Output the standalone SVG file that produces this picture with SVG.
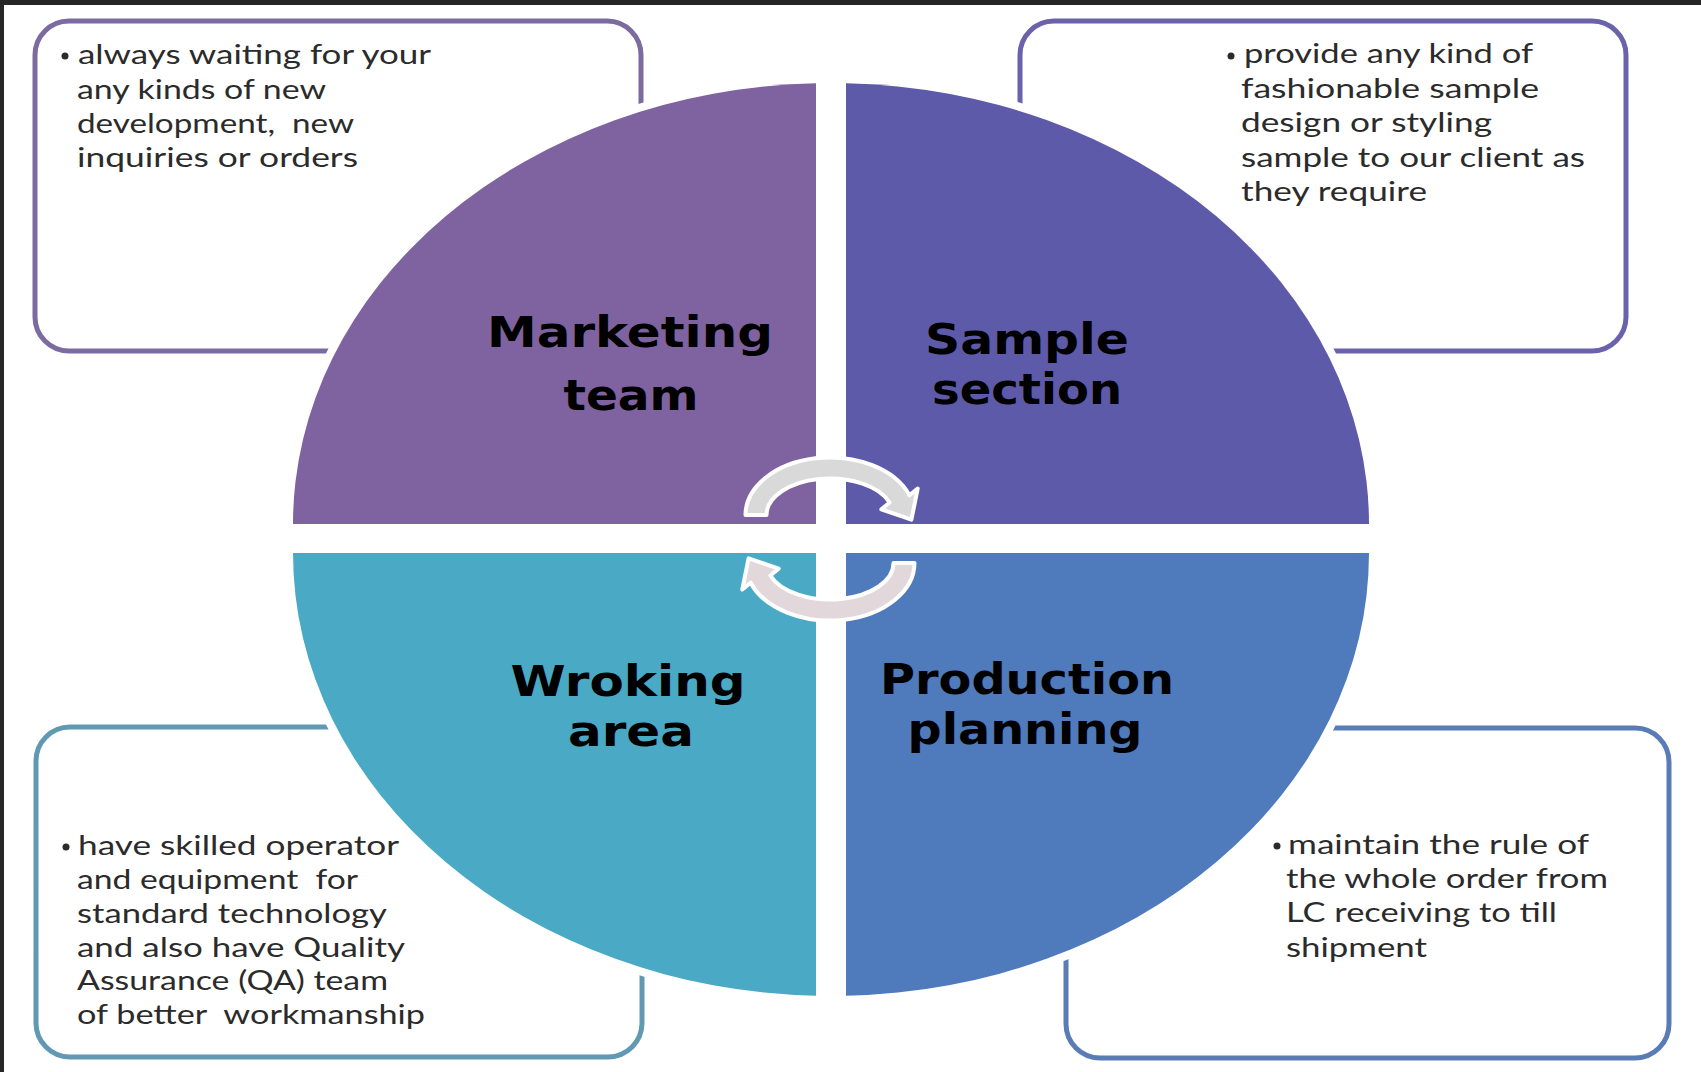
<svg xmlns="http://www.w3.org/2000/svg" xmlns:xlink="http://www.w3.org/1999/xlink" width="1701" height="1072" viewBox="0 0 1701 1072">
  <style>
    .box { fill: #ffffff; stroke-width: 5; }
    .quad { stroke: #ffffff; stroke-width: 16; paint-order: stroke; stroke-linejoin: round; }
    .title { font-family: "DejaVu Sans", "Liberation Sans", sans-serif; font-weight: bold; font-size: 42px; fill: #000000; text-anchor: middle; }
    .body { font-family: Lato, "Open Sans", "Liberation Sans", sans-serif; font-size: 27px; fill: #2b2b2b; white-space: pre; }
    .bullet { fill: #2b2b2b; }
    .arrowTop { fill: #d9d9d9; stroke: #ffffff; stroke-width: 4; stroke-linejoin: round; }
    .arrowBot { fill: #e2d8dc; stroke: #ffffff; stroke-width: 4; stroke-linejoin: round; }
  </style>
  <defs>
    <path id="circArrow" d="M -84.5,0 A 84.5,57.5 0 0 1 79.4,-19.7 L 87.7,-26.5 L 81.4,4.7 L 51.3,-5.7 L 59.7,-12.5 A 63.5,36.5 0 0 0 -63.5,0 Z"/>
  </defs>

  <rect x="0" y="0" width="1701" height="1072" fill="#ffffff"/>
  <rect x="0" y="0" width="1701" height="5" fill="#262626"/>
  <rect x="0" y="0" width="4" height="1072" fill="#262626"/>

  <!-- Description boxes -->
  <g id="box-marketing">
    <rect class="box" x="35" y="21" width="606" height="330" rx="34" stroke="#7c6ba0"/>
  </g>
  <g id="box-sample">
    <rect class="box" x="1020" y="21" width="606" height="330" rx="34" stroke="#6a62ab"/>
  </g>
  <g id="box-working">
    <rect class="box" x="36" y="727" width="606" height="330" rx="34" stroke="#6199b3"/>
  </g>
  <g id="box-production">
    <rect class="box" x="1066" y="728" width="603" height="330" rx="34" stroke="#5a7cb6"/>
  </g>

  <!-- Quadrants -->
  <g id="node-marketing">
    <path class="quad" fill="#7f63a1" d="M 816,524 H 293 A 538,441 0 0 1 816,83.2 Z"/>
    <text class="title" x="630" y="347" textLength="286" lengthAdjust="spacingAndGlyphs">Marketing</text>
    <text class="title" x="631" y="410" textLength="135" lengthAdjust="spacingAndGlyphs">team</text>
  </g>
  <g id="node-sample">
    <path class="quad" fill="#5e5aaa" d="M 846,524 V 83.2 A 538,441 0 0 1 1369,524 Z"/>
    <text class="title" x="1027" y="354" textLength="204" lengthAdjust="spacingAndGlyphs">Sample</text>
    <text class="title" x="1027" y="404" textLength="190" lengthAdjust="spacingAndGlyphs">section</text>
  </g>
  <g id="node-working">
    <path class="quad" fill="#4aaac6" d="M 816,553 H 293 A 538,443 0 0 0 816,995.8 Z"/>
    <text class="title" x="628" y="696" textLength="235" lengthAdjust="spacingAndGlyphs">Wroking</text>
    <text class="title" x="631" y="746" textLength="126" lengthAdjust="spacingAndGlyphs">area</text>
  </g>
  <g id="node-production">
    <path class="quad" fill="#4f7abb" d="M 846,553 H 1369 A 538,443 0 0 1 846,995.8 Z"/>
    <text class="title" x="1027" y="694" textLength="294" lengthAdjust="spacingAndGlyphs">Production</text>
    <text class="title" x="1025" y="744" textLength="235" lengthAdjust="spacingAndGlyphs">planning</text>
  </g>

  <!-- Connectors: circular arrows -->
  <g id="connectors">
    <use xlink:href="#circArrow" href="#circArrow" class="arrowTop" transform="translate(830,515)"/>
    <use xlink:href="#circArrow" href="#circArrow" class="arrowBot" transform="translate(830,563) rotate(180)"/>
  </g>

  <!-- Box texts -->
  <g id="text-marketing">
    <circle class="bullet" cx="65" cy="56" r="3.5"/>
    <text class="body" x="78" y="64" textLength="353" lengthAdjust="spacingAndGlyphs">always waiting for your</text>
    <text class="body" x="77" y="99" textLength="249" lengthAdjust="spacingAndGlyphs">any kinds of new</text>
    <text class="body" x="77" y="133" textLength="277" lengthAdjust="spacingAndGlyphs">development,  new</text>
    <text class="body" x="77" y="167" textLength="281" lengthAdjust="spacingAndGlyphs">inquiries or orders</text>
  </g>
  <g id="text-sample">
    <circle class="bullet" cx="1231" cy="56" r="3.5"/>
    <text class="body" x="1244" y="63" textLength="289" lengthAdjust="spacingAndGlyphs">provide any kind of</text>
    <text class="body" x="1241" y="98" textLength="298" lengthAdjust="spacingAndGlyphs">fashionable sample</text>
    <text class="body" x="1241" y="132" textLength="251" lengthAdjust="spacingAndGlyphs">design or styling</text>
    <text class="body" x="1241" y="167" textLength="344" lengthAdjust="spacingAndGlyphs">sample to our client as</text>
    <text class="body" x="1241" y="201" textLength="186" lengthAdjust="spacingAndGlyphs">they require</text>
  </g>
  <g id="text-working">
    <circle class="bullet" cx="66" cy="847" r="3.5"/>
    <text class="body" x="78" y="855" textLength="321" lengthAdjust="spacingAndGlyphs">have skilled operator</text>
    <text class="body" x="77" y="889" textLength="281" lengthAdjust="spacingAndGlyphs">and equipment  for</text>
    <text class="body" x="77" y="923" textLength="310" lengthAdjust="spacingAndGlyphs">standard technology</text>
    <text class="body" x="77" y="957" textLength="328" lengthAdjust="spacingAndGlyphs">and also have Quality</text>
    <text class="body" x="77" y="990" textLength="311" lengthAdjust="spacingAndGlyphs">Assurance (QA) team</text>
    <text class="body" x="77" y="1024" textLength="348" lengthAdjust="spacingAndGlyphs">of better  workmanship</text>
  </g>
  <g id="text-production">
    <circle class="bullet" cx="1277" cy="846" r="3.5"/>
    <text class="body" x="1288" y="854" textLength="301" lengthAdjust="spacingAndGlyphs">maintain the rule of</text>
    <text class="body" x="1286" y="888" textLength="322" lengthAdjust="spacingAndGlyphs">the whole order from</text>
    <text class="body" x="1286" y="922" textLength="271" lengthAdjust="spacingAndGlyphs">LC receiving to till</text>
    <text class="body" x="1286" y="957" textLength="141" lengthAdjust="spacingAndGlyphs">shipment</text>
  </g>
</svg>
